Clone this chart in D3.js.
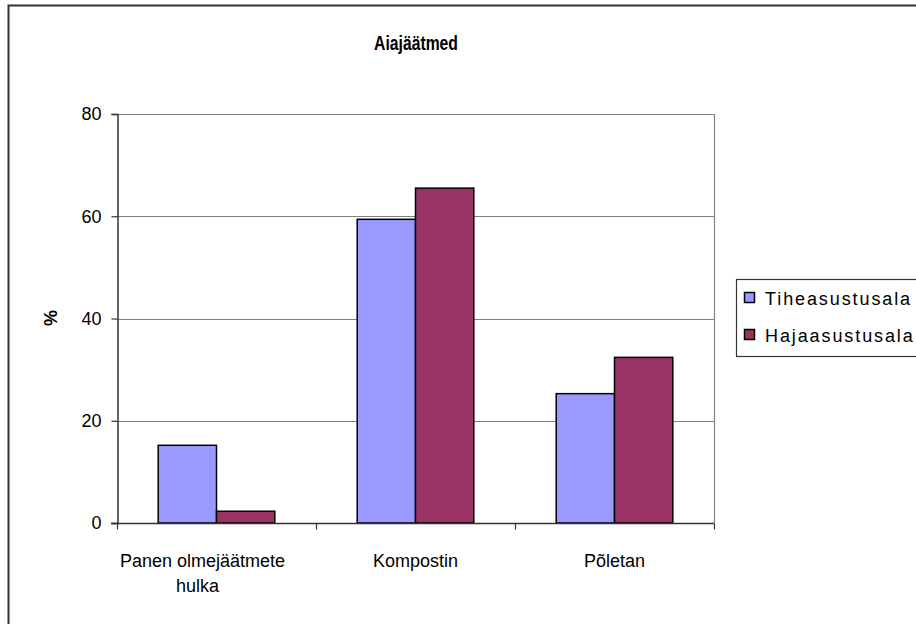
<!DOCTYPE html>
<html><head><meta charset="utf-8">
<script src="https://cdn.jsdelivr.net/npm/d3@7"></script>
<style>
body{margin:0;background:#fff;}
text{font-family:"Liberation Sans",Arial,sans-serif;fill:#000;}
</style></head>
<body>
<svg id="c" width="916" height="624"></svg>
<script>
const categories = [["Panen olmejäätmete","hulka"],["Kompostin"],["Põletan"]];
const seriesNames = ["Tiheasustusala","Hajaasustusala"];
const tiheasustusala = [15.2, 59.4, 25.3];
const hajaasustusala = [2.3, 65.5, 32.4];
const yTicks = [0,20,40,60,80];
const colors = ["#9999FF","#993366"];
const title = "Aiajäätmed";
const yLabel = "%";

(function(){
const svg = d3.select("#c");
const W=916,H=624;
svg.append("rect").attr("x",0).attr("y",0).attr("width",W).attr("height",H).attr("fill","#fff");
svg.append("rect").attr("x",8.5).attr("y",5.5).attr("width",W+10).attr("height",H+10)
  .attr("fill","none").attr("stroke","#333").attr("stroke-width",2);

const pL=117,pR=714,pT=114,pB=523;
const x = d3.scaleBand().domain(d3.range(categories.length)).range([pL,pR]);
const y = d3.scaleLinear().domain([0,80]).range([pB,pT]);
const series=[tiheasustusala,hajaasustusala];
const barW = 58.3;
const inner = d3.scaleBand().domain([0,1]).range([0,2*barW]);

svg.append("g").selectAll("line").data(yTicks.filter(d=>d>0)).join("line")
  .attr("x1",pL).attr("x2",pR).attr("y1",d=>Math.round(y(d))+0.5).attr("y2",d=>Math.round(y(d))+0.5)
  .attr("stroke","#808080").attr("stroke-width",1.2);
svg.append("line").attr("x1",pR+0.5).attr("x2",pR+0.5).attr("y1",pT).attr("y2",pB)
  .attr("stroke","#808080").attr("stroke-width",1.2);

categories.forEach((c,i)=>{
  const gx = x(i)+(x.bandwidth()-2*barW)/2;
  series.forEach((s,j)=>{
    svg.append("rect").attr("x",gx+inner(j)).attr("y",y(s[i]))
      .attr("width",barW).attr("height",pB-y(s[i]))
      .attr("fill",colors[j]).attr("stroke","#000").attr("stroke-width",1.5);
  });
});

const ya = svg.append("g").attr("transform",`translate(${pL+0.5},0)`)
  .call(d3.axisLeft(y).tickValues(yTicks).tickSize(6).tickPadding(10));
ya.select(".domain").attr("stroke","#333").attr("stroke-width",1.5);
ya.selectAll(".tick line").attr("stroke","#333").attr("stroke-width",1.2);
ya.selectAll("text").attr("font-size",18).attr("font-family","Liberation Sans, Arial, sans-serif").attr("fill","#000");

const xa = svg.append("g").attr("transform",`translate(0,${pB+0.5})`);
xa.append("line").attr("x1",pL-6).attr("x2",pR).attr("stroke","#333").attr("stroke-width",1.5);
xa.selectAll(".xt").data(d3.range(categories.length+1)).join("line")
  .attr("x1",d=>pL+d*x.step()+0.5).attr("x2",d=>pL+d*x.step()+0.5).attr("y1",0).attr("y2",6)
  .attr("stroke","#333").attr("stroke-width",1.2);
categories.forEach((c,i)=>{
  c.forEach((line,k)=>{
    xa.append("text").attr("x",x(i)+x.bandwidth()/2 - (c.length>1?(k?19:14):0)).attr("y",43+k*25)
      .attr("text-anchor","middle").attr("font-size",18).text(line);
  });
});

svg.append("text").attr("transform","translate(416,50) scale(0.9,1.12)").attr("text-anchor","middle")
  .attr("font-size",17.5).attr("font-weight","bold").text(title);
svg.append("text").attr("transform","translate(57,318) rotate(-90)").attr("text-anchor","middle")
  .attr("font-size",18).attr("font-weight","bold").text(yLabel);

const lg = svg.append("g");
lg.append("rect").attr("x",736.5).attr("y",279.5).attr("width",200).attr("height",77)
  .attr("fill","#fff").attr("stroke","#333").attr("stroke-width",1.2);
seriesNames.forEach((n,j)=>{
  lg.append("rect").attr("x",744.5).attr("y",292.5+j*37).attr("width",10).attr("height",10)
    .attr("fill",colors[j]).attr("stroke","#000").attr("stroke-width",1.5);
  lg.append("text").attr("x",765).attr("y",305+j*37).attr("font-size",18)
    .attr("letter-spacing",1.9).text(n);
});
})();
</script>
</body></html>
